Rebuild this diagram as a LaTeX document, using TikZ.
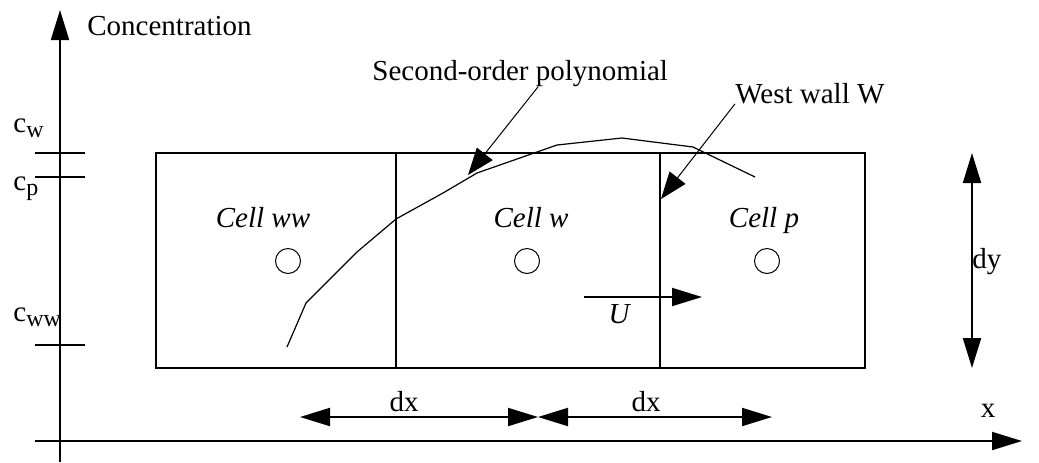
\documentclass[tikz,border=0pt]{standalone}
\usepackage{fontspec}
\setmainfont{Liberation Serif}
\usetikzlibrary{arrows.meta,positioning}
\definecolor{ink}{HTML}{000000}
\newcommand{\conc}[1]{c\raisebox{-2.5pt}{\fontsize{12}{13}\selectfont #1}}

\begin{document}
\begin{tikzpicture}[
  x=0.5pt, y=-0.5pt,
  font=\fontsize{14.5}{17}\selectfont, >={Triangle[length=15pt,width=9pt]},
  wall/.style={draw=ink, line width=1pt},
  axis/.style={->, draw=ink, line width=1pt},
  dim/.style={<->, draw=ink, line width=1pt},
  pointer/.style={-{Triangle[length=13.5pt,width=10pt]}, draw=ink, line width=0.5pt},
  curve/.style={draw=ink, line width=0.6pt, line join=round},
  lbl/.style={inner sep=0pt, text=ink},
  cellbox/.style={draw=ink, line width=1pt, minimum height=107.5pt, inner sep=0pt},
  cellname/.style={lbl, font=\fontsize{14.5}{17}\selectfont\itshape, anchor=base},
  centre/.style={circle, draw=ink, line width=0.5pt, minimum size=12.5pt, inner sep=0pt},
]
\useasboundingbox (0,0) rectangle (1039,462);

% axes
\coordinate (ybot) at (60,462);
\coordinate (ytop) at (60,10);
\coordinate (xleft) at (35,441);
\coordinate (xright) at (1022,441);
\draw[axis] (ybot) -- (ytop);
\draw[axis] (xleft) -- (xright);
\node[lbl, anchor=base west] (conc) at (87,35) {Concentration};
\node[lbl, anchor=base] (xlab) at (988,417) {x};

% ticks on the concentration axis
\foreach \y in {153,177,345}
  \draw[wall] (35,\y) -- (85,\y);
\node[lbl, anchor=base west] (cw) at (13,132) {\conc{w}};
\node[lbl, anchor=base west] (cp) at (13,190) {\conc{p}};
\node[lbl, anchor=base west] (cww) at (13,321) {\conc{ww}};

% the three cells
\node[cellbox, minimum width=120pt] (ww) at (276,260.5) {};
\node[cellbox, minimum width=132pt] (w) at (528,260.5) {};
\node[cellbox, minimum width=102.5pt] (p) at (762.5,260.5) {};
\node[cellname] (wwname) at (263,227) {Cell ww};
\node[cellname] (wname) at (531,227) {Cell w};
\node[cellname] (pname) at (764,227) {Cell p};
\node[centre] (wwc) at (288,261) {};
\node[centre] (wc) at (527,261) {};
\node[centre] (pc) at (767,261) {};

% second-order polynomial through the cells
\draw[curve] (287,347) -- (306,303) -- (357,252) -- (396,219) -- (443,193)
  -- (477,173) -- (557,145) -- (622,138) -- (693,147) -- (755,177);

% pointers
\node[lbl, anchor=base west] (poly) at (372,80) {Second-order polynomial};
\coordinate (polytip) at (468,175);
\draw[pointer] ([xshift=9pt]poly.south) -- (polytip);
\node[lbl, anchor=base west] (westwall) at (735,103) {West wall W};
\coordinate (walltip) at (661,199);
\draw[pointer] (westwall.south west) -- (walltip);

% velocity
\coordinate (ustart) at (584,297);
\coordinate (uend) at (702,297);
\draw[axis] (ustart) -- (uend);
\node[lbl, anchor=base, font=\fontsize{14.5}{17}\selectfont\itshape] (ulab) at (619,323) {U};

% cell sizes
\coordinate (dytop) at (972,153);
\coordinate (dybot) at (972,368);
\draw[dim] (dytop) -- (dybot);
\node[lbl, anchor=base west] (dylab) at (972,268) {dy};
\coordinate (dxa) at (300,417);
\coordinate (dxb) at (538,417);
\coordinate (dxc) at (772,417);
\draw[dim] (dxa) -- (dxb);
\draw[dim] (dxb) -- (dxc);
\node[lbl, anchor=base] (dxlab1) at (404,411) {dx};
\node[lbl, anchor=base] (dxlab2) at (646,411) {dx};
\end{tikzpicture}
\end{document}
